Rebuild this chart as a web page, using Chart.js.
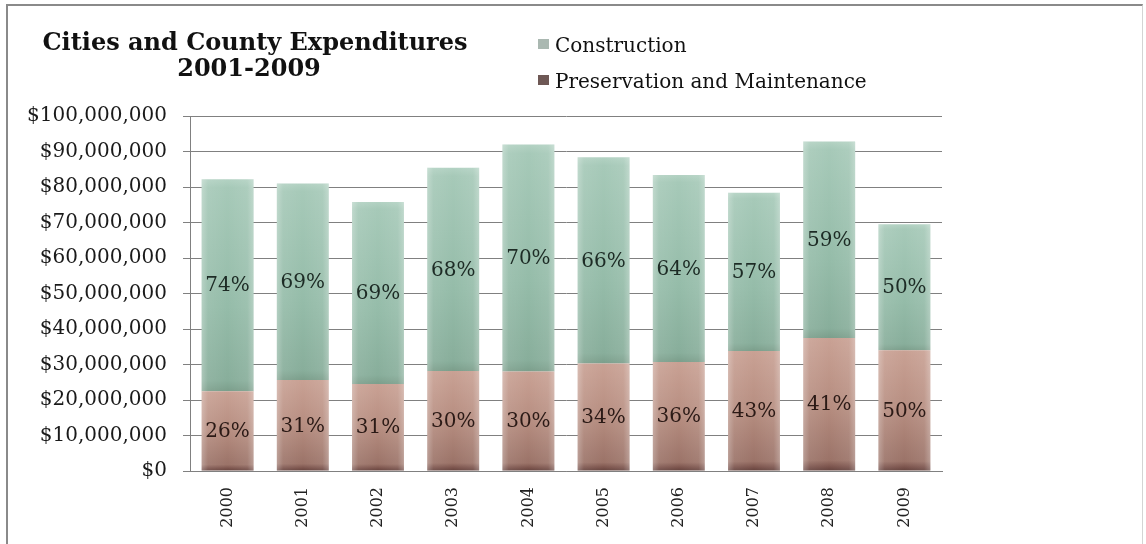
<!DOCTYPE html>
<html>
<head>
<meta charset="utf-8">
<script src="https://cdn.jsdelivr.net/npm/chart.js@4.4.1/dist/chart.umd.min.js"></script>
<style>
    html, body { margin: 0; padding: 0; background: #fff; }
    #wrap { position: relative; width: 1146px; height: 544px; }
    #frame {
        position: absolute; left: 6px; top: 4px; width: 1134px; height: 538px;
        border-left: 2px solid #8a8a8a; border-top: 2px solid #8a8a8a;
        border-right: 1px solid #d4d4d4; border-bottom: 1px solid #e0e0e0;
        pointer-events: none;
    }
    canvas { position: absolute; left: 0; top: 0; }
</style>
</head>
<body>
<div id="wrap">
    <canvas id="expChart" width="1146" height="544"></canvas>
    <div id="frame"></div>
</div>
<script>
    const years = ['2000', '2001', '2002', '2003', '2004', '2005', '2006', '2007', '2008', '2009'];
    const preservation = [22500000, 25600000, 24500000, 28200000, 28000000, 30300000, 30700000, 33800000, 37500000, 34000000];
    const construction = [59700000, 55400000, 51300000, 57200000, 64000000, 58100000, 52700000, 44600000, 55300000, 35500000];
    const constructionPct = ['74%', '69%', '69%', '68%', '70%', '66%', '64%', '57%', '59%', '50%'];
    const preservationPct = ['26%', '31%', '31%', '30%', '30%', '34%', '36%', '43%', '41%', '50%'];
    const titleLines = ['Cities and County Expenditures', '2001-2009'];
    const yTicks = { min: 0, max: 100000000, step: 10000000 };

    const serif = "'DejaVu Serif', 'Liberation Serif', serif";
    const gridColor = '#808080';

    // vertical gradient over one stacked segment
    function segmentFill(stops, lowArr, highArr) {
        return (context) => {
            const chart = context.chart;
            const y = chart.scales.y;
            if (!chart.chartArea || !y || context.dataIndex === undefined) return stops[0][1];
            const i = context.dataIndex;
            const low = lowArr ? lowArr[i] : 0;
            const top = y.getPixelForValue(low + highArr[i]);
            const bottom = y.getPixelForValue(low);
            if (!isFinite(top) || !isFinite(bottom) || top === bottom) return stops[0][1];
            const g = chart.ctx.createLinearGradient(0, top, 0, bottom);
            stops.forEach(([at, c]) => g.addColorStop(at, c));
            return g;
        };
    }

    const presStops = [[0, '#c9a194'], [0.5, '#b68d80'], [0.92, '#9b7368'], [0.97, '#7a524b'], [1, '#62413c']];
    const consStops = [[0, '#b3d2c3'], [0.04, '#a6c9b8'], [0.6, '#95bca9'], [0.95, '#88ae9b'], [1, '#7b9e8b']];

    const decorPlugin = {
        id: 'decor',
        afterDatasetsDraw(chart) {
            const ctx = chart.ctx;
            // cylinder-ish shine on each bar
            chart.data.datasets.forEach((ds, di) => {
                chart.getDatasetMeta(di).data.forEach((bar) => {
                    const { x, y, base, width } = bar.getProps(['x', 'y', 'base', 'width'], true);
                    const g = ctx.createLinearGradient(x - width / 2, 0, x + width / 2, 0);
                    g.addColorStop(0, 'rgba(255,255,255,0.30)');
                    g.addColorStop(0.12, 'rgba(255,255,255,0.08)');
                    g.addColorStop(0.5, 'rgba(255,255,255,0)');
                    g.addColorStop(0.88, 'rgba(255,255,255,0.08)');
                    g.addColorStop(1, 'rgba(255,255,255,0.30)');
                    ctx.save();
                    ctx.fillStyle = g;
                    ctx.fillRect(x - width / 2, Math.min(y, base), width, Math.abs(base - y));
                    ctx.restore();
                });
            });

            // percentage labels at segment centres
            ctx.save();
            ctx.font = `20px ${serif}`;
            ctx.textAlign = 'center';
            ctx.textBaseline = 'middle';
            const labelSets = [preservationPct, constructionPct];
            const labelColors = ['#2b1a16', '#1d2b25'];
            chart.data.datasets.forEach((ds, di) => {
                ctx.fillStyle = labelColors[di];
                chart.getDatasetMeta(di).data.forEach((bar, i) => {
                    const { x, y, base } = bar.getProps(['x', 'y', 'base'], true);
                    ctx.fillText(labelSets[di][i], x, (y + base) / 2 + 1);
                });
            });
            ctx.restore();

            // title
            ctx.save();
            ctx.fillStyle = '#111';
            ctx.font = `bold 24px ${serif}`;
            ctx.textAlign = 'center';
            ctx.textBaseline = 'alphabetic';
            ctx.fillText(titleLines[0], 255, 50);
            ctx.fillText(titleLines[1], 249, 76);
            ctx.restore();

            // legend, construction listed first
            ctx.save();
            ctx.font = `20px ${serif}`;
            ctx.textAlign = 'left';
            ctx.textBaseline = 'alphabetic';
            const legendRows = [
                { label: chart.data.datasets[1].label, icon: '#aab8b1', y: 52 },
                { label: chart.data.datasets[0].label, icon: '#6e5855', y: 88 }
            ];
            legendRows.forEach((row) => {
                ctx.fillStyle = row.icon;
                ctx.fillRect(538, row.y - 13, 11, 10);
                ctx.fillStyle = '#111';
                ctx.fillText(row.label, 555, row.y);
            });
            ctx.restore();
        }
    };

    new Chart(document.getElementById('expChart').getContext('2d'), {
        type: 'bar',
        data: {
            labels: years,
            datasets: [
                {
                    label: 'Preservation and Maintenance',
                    data: preservation,
                    backgroundColor: segmentFill(presStops, null, preservation),
                    borderWidth: 0
                },
                {
                    label: 'Construction',
                    data: construction,
                    backgroundColor: segmentFill(consStops, preservation, construction),
                    borderWidth: 0
                }
            ]
        },
        options: {
            responsive: false,
            animation: false,
            layout: { padding: { top: 116, right: 204, bottom: 0, left: 0 } },
            datasets: { bar: { categoryPercentage: 1, barPercentage: 0.69 } },
            plugins: {
                legend: { display: false },
                title: { display: false },
                tooltip: { enabled: false }
            },
            scales: {
                x: {
                    stacked: true,
                    grid: { display: false, drawTicks: false },
                    border: { display: true, color: gridColor, width: 1 },
                    ticks: {
                        color: '#222',
                        font: { family: serif, size: 16 },
                        minRotation: 90,
                        maxRotation: 90,
                        padding: 16
                    },
                    afterFit: (scale) => { scale.height = 73; }
                },
                y: {
                    stacked: true,
                    min: yTicks.min,
                    max: yTicks.max,
                    grid: { color: gridColor, lineWidth: 1, tickLength: 7 },
                    border: { display: true, color: gridColor, width: 1 },
                    ticks: {
                        stepSize: yTicks.step,
                        color: '#1a1a1a',
                        font: { family: serif, size: 20 },
                        padding: 16,
                        callback: (value) => '$' + Number(value).toLocaleString('en-US')
                    },
                    afterFit: (scale) => { scale.width = 190; }
                }
            }
        },
        plugins: [decorPlugin]
    });
</script>
</body>
</html>
